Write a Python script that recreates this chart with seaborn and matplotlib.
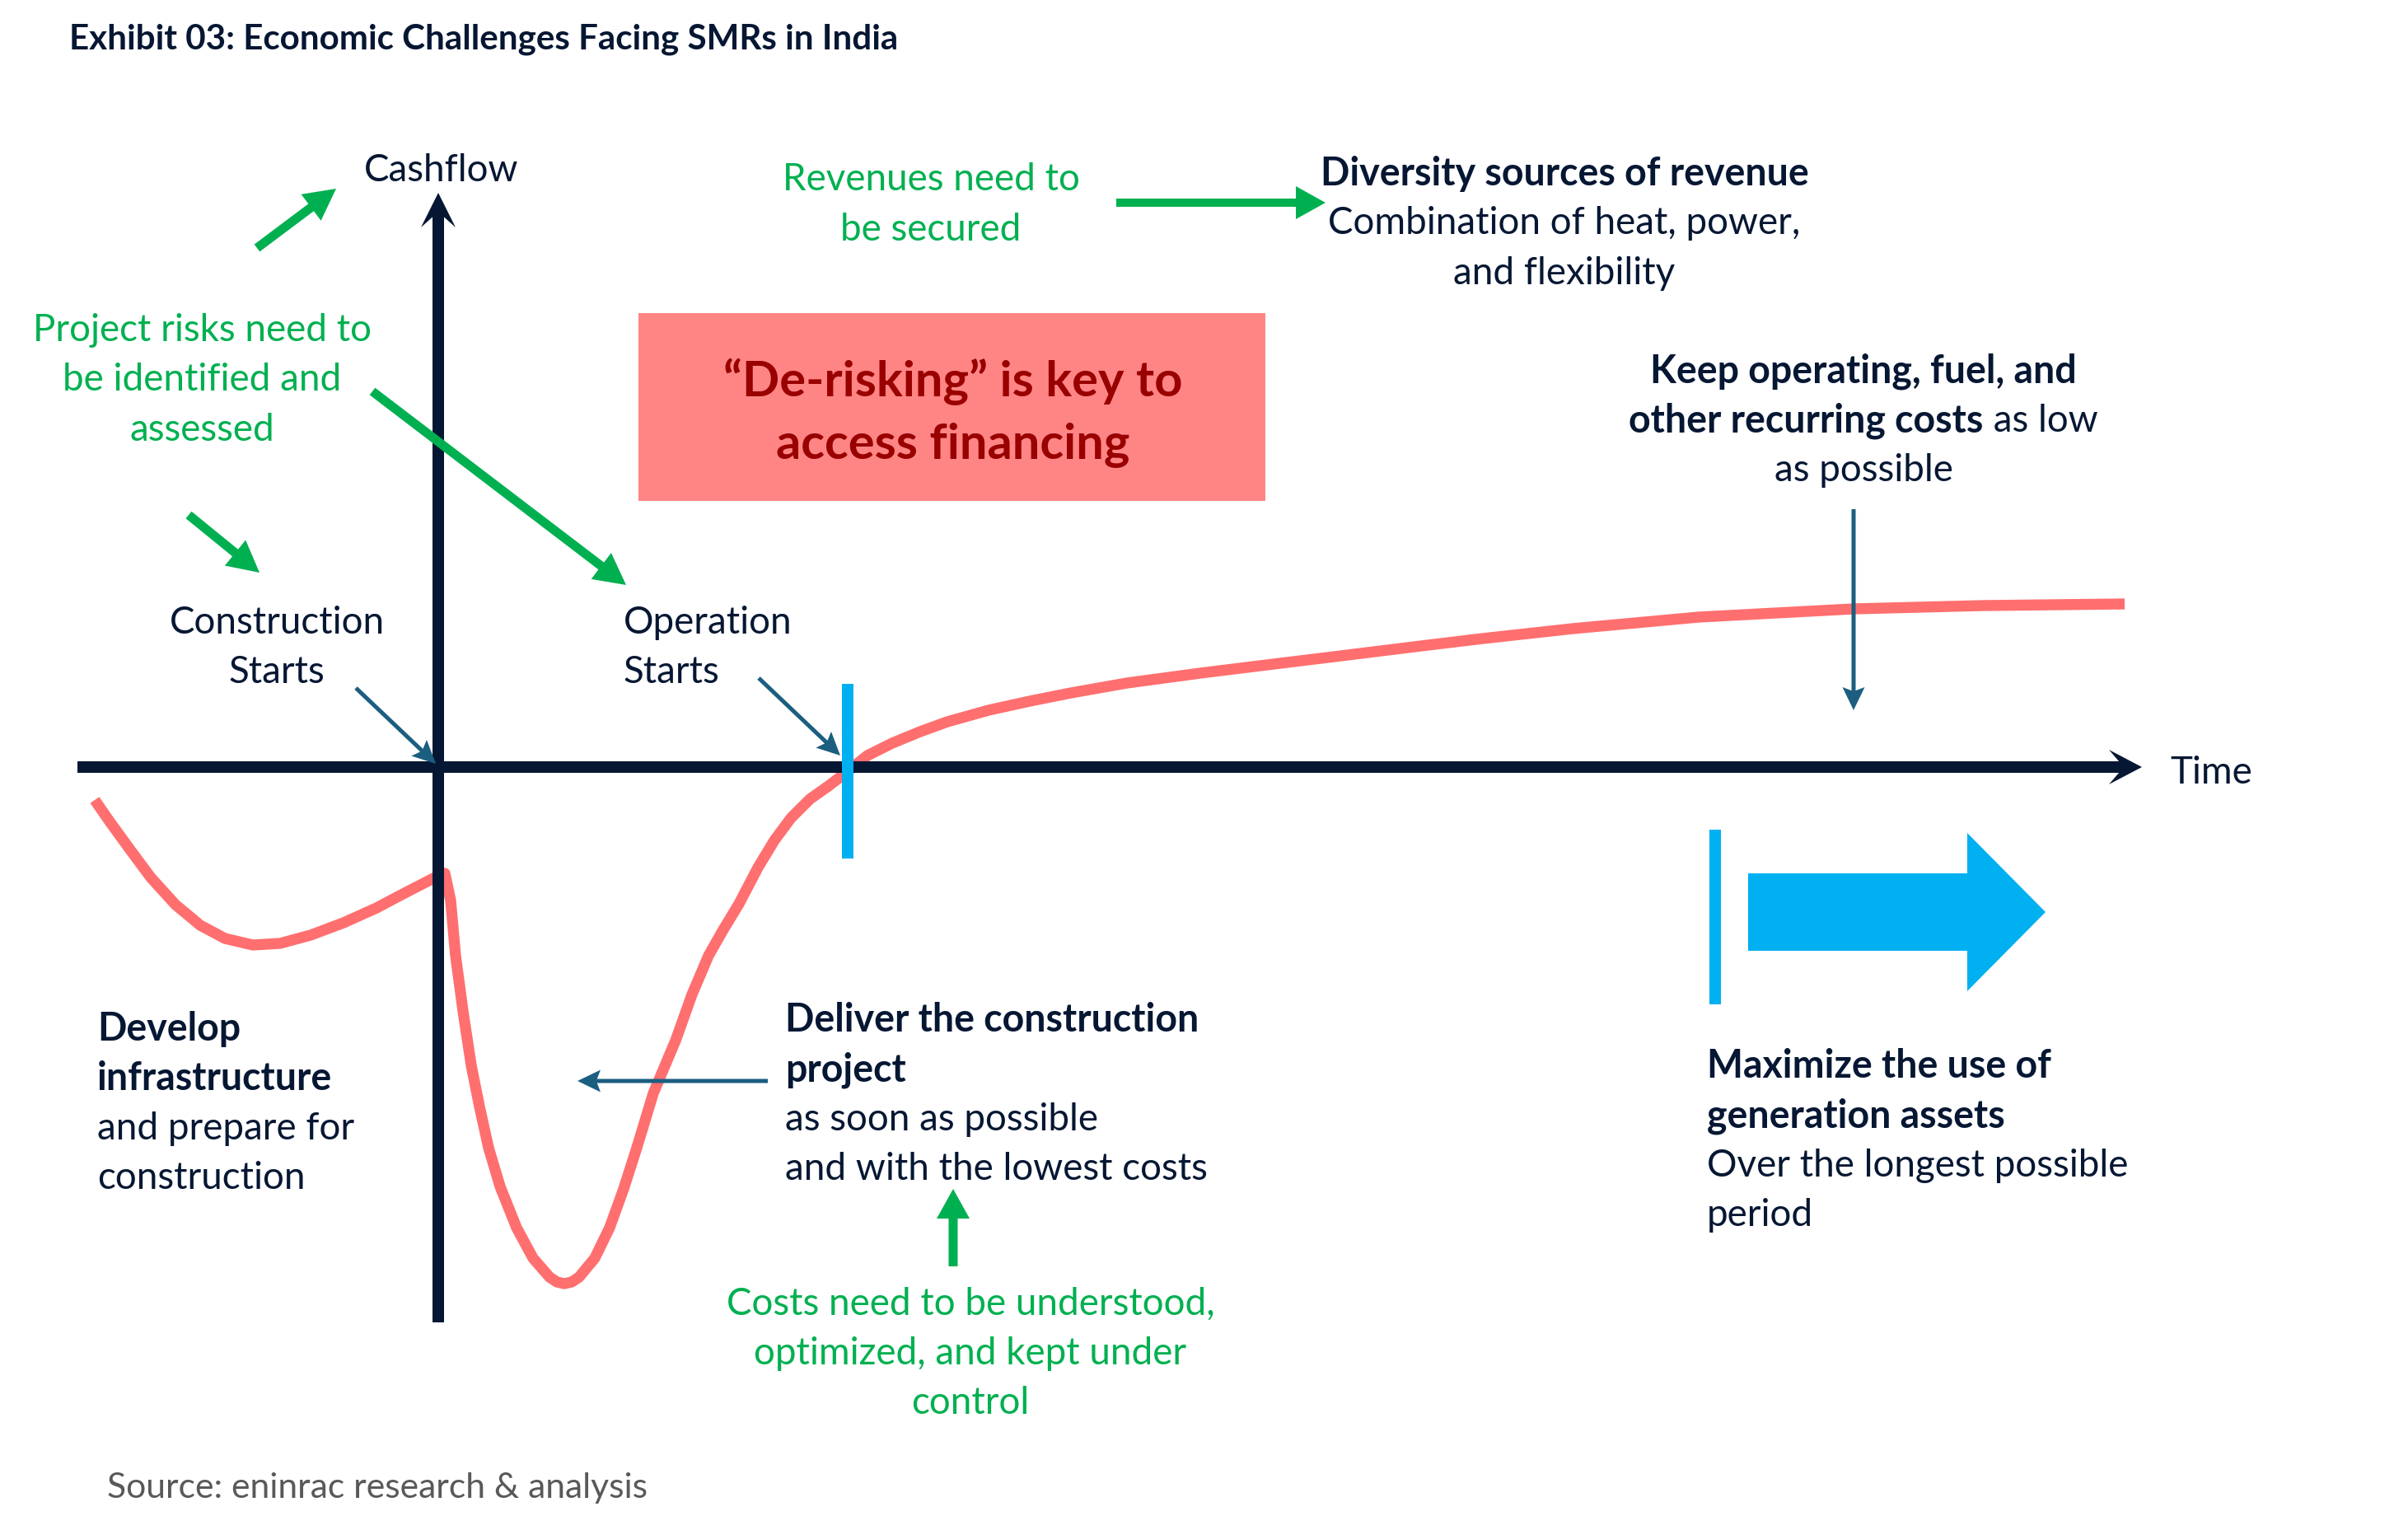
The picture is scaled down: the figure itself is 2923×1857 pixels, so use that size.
import matplotlib
matplotlib.use("Agg")
import matplotlib.pyplot as plt
from matplotlib.patches import FancyArrow, Rectangle
import seaborn as sns

# cashflow curve, in chart units (origin = axes crossing)
time_units = [-4.17, -3.99, -3.75, -3.49, -3.19, -2.89, -2.59, -2.25, -1.92, -1.55,
              -1.15, -0.75, -0.39, -0.02, 0.08, 0.15, 0.21, 0.30, 0.40, 0.50,
              0.61, 0.75, 0.95, 1.15, 1.35, 1.44, 1.53, 1.62, 1.71, 1.90,
              2.08, 2.25, 2.41, 2.61, 2.88, 3.08, 3.28, 3.45, 3.65, 3.88,
              4.08, 4.28, 4.51, 4.75, 4.97, 5.21, 5.51, 5.85, 6.18, 6.68,
              7.18, 7.68, 8.36, 9.25, 10.14, 11.04, 11.93, 12.68, 13.77, 15.30,
              17.18, 18.75, 20.47]
cashflow_units = [-0.40, -0.66, -0.99, -1.34, -1.67, -1.92, -2.08, -2.16, -2.14, -2.04,
                  -1.89, -1.71, -1.52, -1.33, -1.29, -1.62, -2.29, -2.96, -3.62, -4.12,
                  -4.62, -5.09, -5.59, -5.96, -6.19, -6.25, -6.27, -6.25, -6.19, -5.96,
                  -5.59, -5.12, -4.62, -3.96, -3.32, -2.76, -2.29, -1.99, -1.66, -1.22,
                  -0.89, -0.62, -0.39, -0.22, -0.05, 0.14, 0.29, 0.43, 0.55, 0.69,
                  0.80, 0.90, 1.02, 1.14, 1.25, 1.36, 1.47, 1.56, 1.68, 1.82,
                  1.92, 1.96, 1.98]

title = "Exhibit 03: Economic Challenges Facing SMRs in India"
source = "Source: eninrac research & analysis"
y_label = "Cashflow"
x_label = "Time"
box_lines = ["\u201cDe-risking\u201d is key to", "access financing"]
revenue_note = ["Revenues need to", "be secured"]
risk_note = ["Project risks need to", "be identified and", "assessed"]
cost_note = ["Costs need to be understood,", "optimized, and kept under", "control"]
diversity_lines = ["Diversity sources of revenue", "Combination of heat, power,", "and flexibility"]
keep_lines = ["Keep operating, fuel, and", "other recurring costs", " as low", "as possible"]
construction_lines = ["Construction", "Starts"]
operation_lines = ["Operation", "Starts"]
develop_lines = ["Develop", "infrastructure", "and prepare for", "construction"]
deliver_lines = ["Deliver the construction", "project", "as soon as possible", "and with the lowest costs"]
maximize_lines = ["Maximize the use of", "generation assets", "Over the longest possible", "period"]

NAVY = "#061733"
GREEN = "#00B050"
TEAL = "#1B5E80"
PINK = "#FF6F6F"
BOX = "#FF8585"
DARKRED = "#990000"
CYAN = "#00B0F0"
GRAY = "#595959"

sns.set_theme(style="white")
plt.rcParams["font.family"] = ["Lato", "DejaVu Sans"]

W, H = 2923, 1857
fig = plt.figure(figsize=(W / 100, H / 100), dpi=100)
fig.patch.set_facecolor("white")

# curve axes: 1 unit = 100 px, origin where the two arrows cross
ax = fig.add_axes([0, 0, 1, 1])
ax.set_xlim(-5.32, 23.91)
ax.set_ylim(-9.26, 9.31)
ax.axis("off")
sns.lineplot(x=time_units, y=cashflow_units, ax=ax, sort=False, estimator=None,
             color=PINK, lw=9.6, solid_joinstyle="round", solid_capstyle="butt")

# annotation layer in pixel coordinates
ov = fig.add_axes([0, 0, 1, 1])
ov.set_xlim(0, W)
ov.set_ylim(H, 0)
ov.axis("off")

renderer = fig.canvas.get_renderer()


def width_of(text, size, weight="normal"):
    t = ov.text(0, 0, text, fontsize=size, fontweight=weight)
    w = t.get_window_extent(renderer).width
    t.remove()
    return w


def fit(text, target, weight="normal"):
    return 20 * target / width_of(text, 20, weight)


body = fit("Over the longest possible", 513)
body_b = fit("Deliver the construction", 503, "bold")
title_size = fit(title, 1006, "bold")
box_size = fit(box_lines[0], 559, "bold")
source_size = fit(source, 658)


def block(x, y, lines, ha, color=NAVY, n_bold=0, step=60.5):
    for i, line in enumerate(lines):
        bold = i < n_bold
        ov.text(x, y + i * step, line, ha=ha, va="center", color=color,
                fontsize=body_b if bold else body, fontweight="bold" if bold else "normal")


def arrow(x0, y0, x1, y1, color, width, head_w, head_l, overhang=0.0):
    ov.add_patch(FancyArrow(x0, y0, x1 - x0, y1 - y0, width=width, head_width=head_w,
                            head_length=head_l, length_includes_head=True,
                            overhang=overhang, color=color, lw=0))


# axes arrows
arrow(94, 931, 2600, 931, NAVY, 14, 42, 40, 0.3)
arrow(532, 1605, 532, 234, NAVY, 14, 42, 42, 0.3)
ov.text(536, 207, y_label, ha="center", va="center", color=NAVY, fontsize=body)
ov.text(2684, 938, x_label, ha="center", va="center", color=NAVY, fontsize=body)

# title and source
ov.text(84, 48, title, ha="left", va="center", color=NAVY, fontsize=title_size, fontweight="bold")
ov.text(130, 1806, source, ha="left", va="center", color=GRAY, fontsize=source_size)

# de-risking box
ov.add_patch(Rectangle((775, 380), 761, 228, color=BOX, lw=0))
for i, line in enumerate(box_lines):
    ov.text(1157, 463 + i * 77, line, ha="center", va="center", color=DARKRED,
            fontsize=box_size, fontweight="bold")

# green notes and arrows
block(1130, 218, revenue_note, "center", GREEN)
block(245, 401, risk_note, "center", GREEN)
block(1178, 1583, cost_note, "center", GREEN, step=60)
arrow(312, 301, 408, 229, GREEN, 11, 40, 38)
arrow(229, 625, 315, 695, GREEN, 11, 40, 38)
arrow(452, 475, 760, 710, GREEN, 11, 40, 38)
arrow(1355, 246, 1609, 246, GREEN, 10, 40, 36)
arrow(1157, 1537, 1157, 1443, GREEN, 11, 40, 36)

# navy annotation blocks
block(1899, 211, diversity_lines, "center", n_bold=1)
block(336, 756, construction_lines, "center", step=60)
block(757, 756, operation_lines, "left", step=60)
block(118, 1249, develop_lines, "left", n_bold=2, step=60.3)
block(953, 1238, deliver_lines, "left", n_bold=2, step=60.3)
block(2072, 1294, maximize_lines, "left", n_bold=2, step=60.3)

# keep-costs block with a mixed bold/normal second line
ov.text(2262, 451, keep_lines[0], ha="center", va="center", color=NAVY,
        fontsize=body_b, fontweight="bold")
wb = width_of(keep_lines[1], body_b, "bold")
wn = width_of(keep_lines[2], body)
left = 2262 - (wb + wn) / 2
ov.text(left, 511, keep_lines[1], ha="left", va="center", color=NAVY,
        fontsize=body_b, fontweight="bold")
ov.text(left + wb, 511, keep_lines[2], ha="left", va="center", color=NAVY, fontsize=body)
ov.text(2262, 571, keep_lines[3], ha="center", va="center", color=NAVY, fontsize=body)

# teal pointer arrows
arrow(432, 835, 529, 927, TEAL, 5, 27, 28, 0.15)
arrow(921, 823, 1020, 917, TEAL, 5, 27, 28, 0.15)
arrow(932, 1312, 701, 1312, TEAL, 5, 27, 28, 0.15)
arrow(2250, 618, 2250, 862, TEAL, 5, 27, 28, 0.15)

# cyan markers and block arrow
ov.add_patch(Rectangle((1022, 830), 14, 212, color=CYAN, lw=0))
ov.add_patch(Rectangle((2075, 1007), 14, 212, color=CYAN, lw=0))
arrow(2122, 1107, 2483, 1107, CYAN, 94, 192, 95)

fig.savefig("out.png", dpi=100, facecolor="white")
